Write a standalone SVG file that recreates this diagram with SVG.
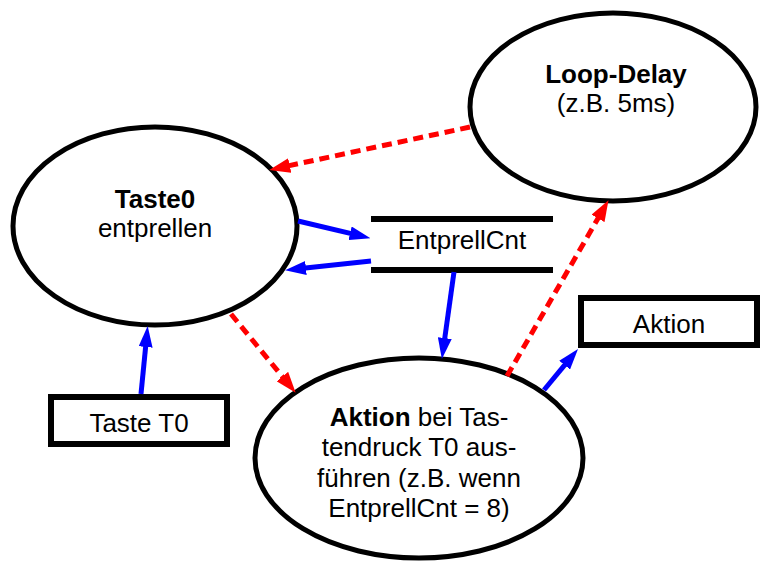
<svg xmlns="http://www.w3.org/2000/svg" width="762" height="563" viewBox="0 0 762 563">
<style>
.node{fill:#fff;stroke:#000;stroke-width:5}
.box{fill:#fff;stroke:#000;stroke-width:6}
.t{font-family:"Liberation Sans",Arial,sans-serif;font-size:26px;fill:#000;text-anchor:middle}
.b{font-weight:bold}
.blue{stroke:#0000ff;stroke-width:5;fill:none;marker-end:url(#ab)}
.red{stroke:#ff0000;stroke-width:5;fill:none;stroke-dasharray:10 6;marker-end:url(#ar)}
</style>
<defs>
<marker id="ab" markerUnits="userSpaceOnUse" markerWidth="21" markerHeight="14" viewBox="0 0 21 14" refX="10" refY="7" orient="auto"><path d="M0,0 L21,7 L0,14 z" fill="#0000ff"/></marker>
<marker id="ar" markerUnits="userSpaceOnUse" markerWidth="21" markerHeight="15" viewBox="0 0 21 15" refX="10" refY="7.5" orient="auto"><path d="M0,0 L21,7.5 L0,15 z" fill="#ff0000"/></marker>
</defs>
<rect width="762" height="563" fill="#fff"/>
<g id="taste0">
<ellipse class="node" cx="155" cy="226" rx="142" ry="99"/>
<text class="t b" x="155" y="208">Taste0</text>
<text class="t" x="155" y="237">entprellen</text>
</g>
<g id="loopdelay">
<ellipse class="node" cx="613" cy="107" rx="143" ry="94"/>
<text class="t b" x="616" y="83">Loop-Delay</text>
<text class="t" x="616" y="112">(z.B. 5ms)</text>
</g>
<g id="entprellcnt">
<line x1="371" y1="219" x2="553" y2="219" stroke="#000" stroke-width="6"/>
<line x1="371" y1="270" x2="553" y2="270" stroke="#000" stroke-width="6"/>
<text class="t" x="462" y="249">EntprellCnt</text>
</g>
<g id="aktionnode">
<ellipse class="node" cx="419" cy="458" rx="164" ry="100"/>
<text class="t" x="419" y="426"><tspan class="b">Aktion</tspan> bei Tas-</text>
<text class="t" x="419" y="456">tendruck T0 aus-</text>
<text class="t" x="419" y="486.5">führen (z.B. wenn</text>
<text class="t" x="419" y="517">EntprellCnt = 8)</text>
</g>
<g id="tastet0">
<rect class="box" x="51" y="397" width="176" height="47"/>
<text class="t" x="139" y="432">Taste T0</text>
</g>
<g id="aktionbox">
<rect class="box" x="581" y="298" width="176" height="47"/>
<text class="t" x="669" y="333">Aktion</text>
</g>
<g id="connectors">
<line class="blue" x1="141" y1="394" x2="146.6" y2="337"/>
<line class="blue" x1="298" y1="221" x2="359.8" y2="235.6"/>
<line class="blue" x1="371" y1="261" x2="296" y2="269"/>
<line class="blue" x1="454" y1="272" x2="443.4" y2="348"/>
<line class="blue" x1="544" y1="390" x2="571" y2="357.4"/>
<line class="red" x1="470" y1="127" x2="280" y2="167.6"/>
<line class="red" x1="231" y1="314" x2="288.7" y2="384.3"/>
<line class="red" x1="507" y1="376" x2="603" y2="209.7"/>
</g>
</svg>
